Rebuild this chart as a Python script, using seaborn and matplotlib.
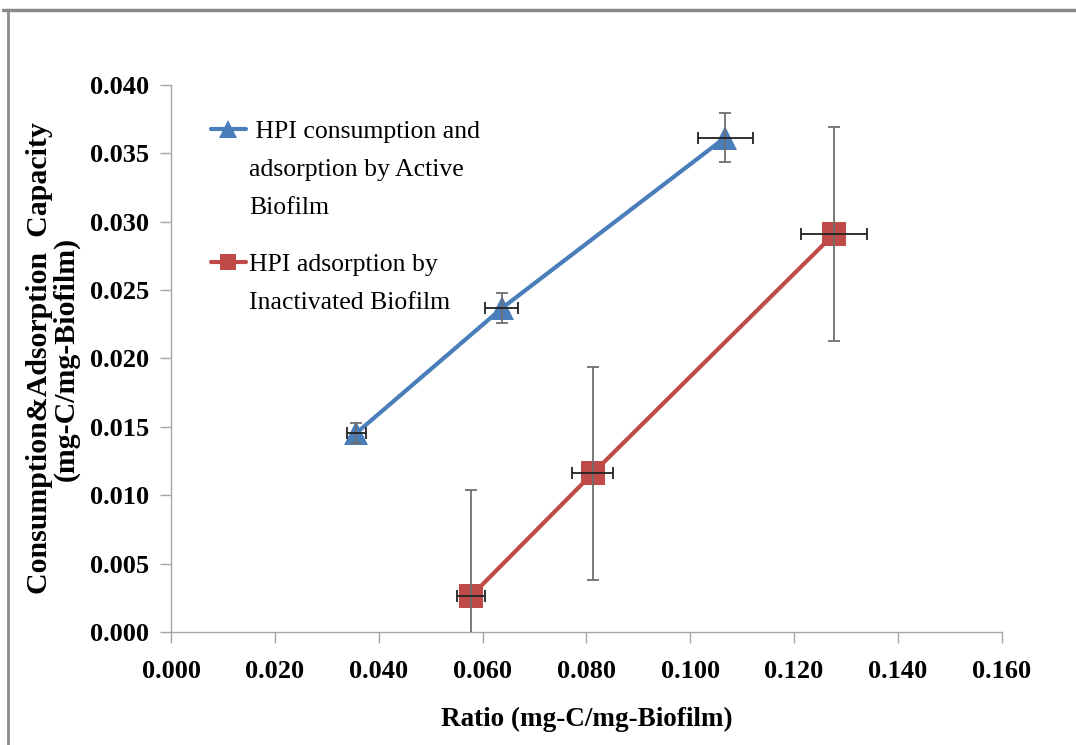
import pandas as pd
import matplotlib.pyplot as plt
import seaborn as sns
from matplotlib.ticker import FormatStrFormatter, MultipleLocator
from matplotlib.lines import Line2D

# values
active_ratio = [0.0357, 0.0637, 0.1067]
active_capacity = [0.01455, 0.02367, 0.03615]
active_xerr = [0.0018, 0.0032, 0.0053]
active_yerr = [0.0007, 0.0011, 0.0018]

inactive_ratio = [0.0577, 0.0812, 0.1277]
inactive_capacity = [0.0026, 0.0116, 0.0291]
inactive_xerr = [0.0027, 0.0040, 0.0064]
inactive_yerr = [0.0078, 0.0078, 0.0078]

active_label = ["HPI consumption and", "adsorption by Active", "Biofilm"]
inactive_label = ["HPI adsorption by", "Inactivated Biofilm"]

blue = '#4a7ebb'
red = '#be4b48'

df = pd.concat([
    pd.DataFrame({'Ratio': active_ratio, 'Capacity': active_capacity,
                  'xerr': active_xerr, 'yerr': active_yerr, 'Series': 'active'}),
    pd.DataFrame({'Ratio': inactive_ratio, 'Capacity': inactive_capacity,
                  'xerr': inactive_xerr, 'yerr': inactive_yerr, 'Series': 'inactive'}),
], ignore_index=True)

sns.set_style('ticks')
plt.rcParams['font.family'] = ['Liberation Serif', 'DejaVu Serif']
plt.rcParams['text.color'] = 'black'
plt.rcParams['axes.labelcolor'] = 'black'

fig = plt.figure(figsize=(10.76, 7.45), dpi=100)
ax = fig.add_axes([0.159, 0.1517, 0.772, 0.7342])

sns.lineplot(data=df, x='Ratio', y='Capacity', hue='Series', style='Series',
             palette=[blue, red], markers=['^', 's'], dashes=False,
             linewidth=3, markersize=17, markeredgewidth=0, ax=ax, zorder=2,
             legend=False)

# error bars on top of the markers
for s in df['Series'].unique():
    d = df[df['Series'] == s]
    ax.errorbar(d['Ratio'], d['Capacity'], yerr=d['yerr'], fmt='none',
                ecolor='#6e6e6e', elinewidth=1.3, capsize=4, capthick=1.3, zorder=3)
    ax.errorbar(d['Ratio'], d['Capacity'], xerr=d['xerr'], fmt='none',
                ecolor='#222222', elinewidth=1.3, capsize=4, capthick=1.3, zorder=3)

ax.set_xlim(0, 0.16)
ax.set_ylim(0, 0.04)
ax.xaxis.set_major_locator(MultipleLocator(0.02))
ax.yaxis.set_major_locator(MultipleLocator(0.005))
ax.xaxis.set_major_formatter(FormatStrFormatter('%.3f'))
ax.yaxis.set_major_formatter(FormatStrFormatter('%.3f'))

sns.despine(ax=ax)
for side in ['left', 'bottom']:
    ax.spines[side].set_color('#a6a6a6')
    ax.spines[side].set_linewidth(1)
ax.tick_params(axis='both', which='major', length=8, width=1, color='#a6a6a6',
               labelcolor='black', labelsize=19, pad=8)
ax.tick_params(axis='x', pad=12)
for lbl in ax.get_xticklabels() + ax.get_yticklabels():
    lbl.set_fontweight('bold')

ax.set_xlabel('Ratio (mg-C/mg-Biofilm)', fontsize=19.5, fontweight='bold', labelpad=17)
ax.set_ylabel('Consumption&Adsorption  Capacity\n(mg-C/mg-Biofilm)', fontsize=21.5,
              fontweight='bold', labelpad=7, linespacing=1.0)

# legend: marker sits beside the first line of each wrapped label
blank = Line2D([], [], linestyle='none')
legend_font = {'family': 'Liberation Serif', 'size': 18.5}
leg_kw = dict(loc='upper left', frameon=False, prop=legend_font, borderpad=0,
              borderaxespad=0, handlelength=1.35, handletextpad=0.15,
              labelspacing=0.58)
h_active = Line2D([], [], color=blue, marker='^', markersize=13, linewidth=3,
                  markeredgewidth=0)
h_inactive = Line2D([], [], color=red, marker='s', markersize=12, linewidth=3,
                    markeredgewidth=0)
leg1 = ax.legend([h_active, blank, blank], [' ' + active_label[0]] + active_label[1:],
                 bbox_to_anchor=(0.048, 0.936), **leg_kw)
ax.add_artist(leg1)
ax.legend([h_inactive, blank], inactive_label,
          bbox_to_anchor=(0.048, 0.692), **leg_kw)

# page frame of the scanned figure
fig.add_artist(Line2D([0.003, 1.0], [0.987, 0.987], color='#8a8a8a', linewidth=2.5))
fig.add_artist(Line2D([0.007, 0.007], [0.0, 0.987], color='#8a8a8a', linewidth=2))

fig.savefig('out.png', dpi=100)
